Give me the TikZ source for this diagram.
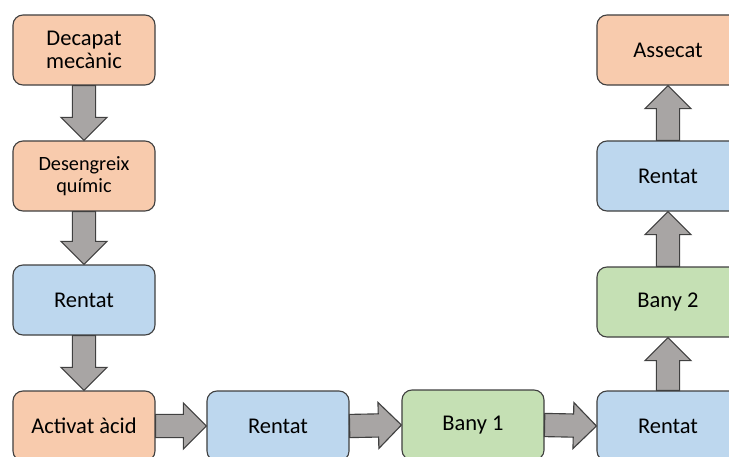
\documentclass[tikz,border=0pt]{standalone}
\usepackage{fontspec}
\setmainfont{Carlito}
\usetikzlibrary{positioning, calc}

\definecolor{stepOrange}{HTML}{F8CBAD}
\definecolor{stepBlue}{HTML}{BDD7EE}
\definecolor{stepGreen}{HTML}{C5E0B4}
\definecolor{arrowGray}{HTML}{A8A5A4}
\definecolor{edgeGray}{HTML}{404040}

\tikzset{processNode/.style={shape=rectangle, rounded corners=0.25cm, draw=edgeGray, line width=0.8pt, align=center, minimum width=3.55cm, minimum height=1.75cm, inner sep=2pt, font=\fontsize{16}{16.6}\selectfont}}
\tikzset{orangeNode/.style={processNode, fill=stepOrange}}
\tikzset{blueNode/.style={processNode, fill=stepBlue}}
\tikzset{greenNode/.style={processNode, fill=stepGreen}}
\tikzset{blockArrow/.style={draw=edgeGray, line width=0.8pt, fill=arrowGray, line join=miter}}

% block arrow from #1 (start of shaft) to #2 (tip)
\newcommand{\flowarrow}[2]{%
  \coordinate (h) at ($(#2)!0.575cm!(#1)$);
  \draw[blockArrow] ($(#1)!0.29cm!90:(#2)$) -- ($(h)!0.29cm!90:(#2)$)
    -- ($(h)!0.575cm!90:(#2)$) -- (#2) -- ($(h)!0.575cm!-90:(#2)$)
    -- ($(h)!0.29cm!-90:(#2)$) -- ($(#1)!0.29cm!-90:(#2)$) -- cycle;}

\begin{document}
\begin{tikzpicture}[x=0.025cm, y=-0.025cm]

\useasboundingbox (0,0) rectangle (729,456);

% left column
\node[orangeNode] (decapat) at (84,50) {Decapat\\mecànic};
\node[orangeNode, font=\fontsize{14.4}{16}\selectfont] (desengreix) at (84,176) {Desengreix\\químic};
\node[blueNode] (rentat1) at (84,300) {Rentat};
\node[orangeNode] (activat) at (84,426) {Activat àcid};

% bottom row
\node[blueNode] (rentat2) at (278,426) {Rentat};
\node[greenNode] (bany1) at (473,425) {Bany 1};
\node[blueNode] (rentat3) at (668,426) {Rentat};

% right column
\node[greenNode] (bany2) at (668,302) {Bany 2};
\node[blueNode] (rentat4) at (668,176) {Rentat};
\node[orangeNode] (assecat) at (668,50) {Assecat};

% arrows
\flowarrow{decapat.south}{desengreix.north}
\flowarrow{desengreix.south}{rentat1.north}
\flowarrow{rentat1.south}{activat.north}
\flowarrow{activat.east}{rentat2.west}
\flowarrow{rentat2.east}{bany1.west}
\flowarrow{bany1.east}{rentat3.west}
\flowarrow{rentat3.north}{bany2.south}
\flowarrow{bany2.north}{rentat4.south}
\flowarrow{rentat4.north}{assecat.south}

\end{tikzpicture}
\end{document}
